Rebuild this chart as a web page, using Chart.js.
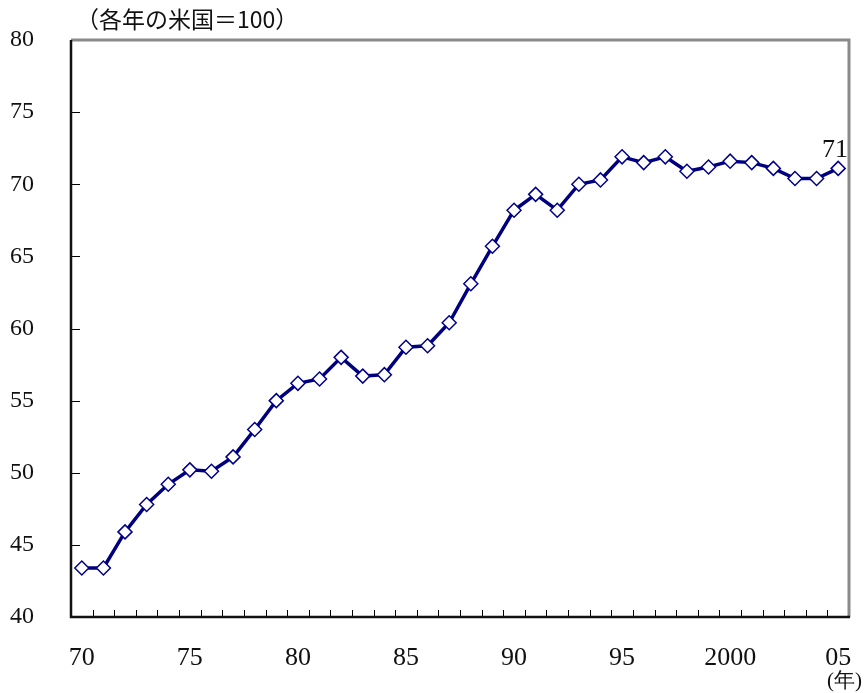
<!DOCTYPE html>
<html>
<head>
<meta charset="utf-8">
<script src="https://cdn.jsdelivr.net/npm/chart.js@4/dist/chart.umd.min.js"></script>
<style>
  html, body { margin: 0; padding: 0; background: #fff; }
  #wrap { width: 865px; height: 693px; }
</style>
</head>
<body>
<div id="wrap"><canvas id="chart"></canvas></div>
<script>
const years = ['70','71','72','73','74','75','76','77','78','79','80','81','82','83','84','85','86','87','88','89',
  '90','91','92','93','94','95','96','97','98','99','2000','01','02','03','04','05'];
const shownYears = ['70','75','80','85','90','95','2000','05'];
const values = [43.4, 43.4, 45.9, 47.8, 49.2, 50.2, 50.1, 51.1, 53.0, 55.0,
  56.2, 56.5, 58.0, 56.7, 56.8, 58.7, 58.8, 60.4, 63.1, 65.7,
  68.2, 69.3, 68.2, 70.0, 70.3, 71.9, 71.5, 71.9, 70.9, 71.2,
  71.6, 71.5, 71.1, 70.4, 70.4, 71.1];
const yTicks = [40, 45, 50, 55, 60, 65, 70, 75, 80];
const unitLabel = '（各年の米国＝100）';
const yearLabel = '(年)';
const lastLabel = '71';

const serif = '"Liberation Serif", "DejaVu Serif", serif';
const cjk = '"Noto Sans CJK JP", sans-serif';

// frame, inner ticks and texts
const framePlugin = {
  id: 'frame',
  afterDraw(chart) {
    const ctx = chart.ctx;
    const a = chart.chartArea;
    const x = chart.scales.x, y = chart.scales.y;
    ctx.save();
    // inner tick marks
    ctx.strokeStyle = '#000';
    ctx.lineWidth = 1;
    yTicks.forEach(v => {
      const py = Math.round(y.getPixelForValue(v)) + 0.5;
      ctx.beginPath(); ctx.moveTo(a.left, py); ctx.lineTo(a.left + 9, py); ctx.stroke();
    });
    for (let i = 1; i < years.length; i++) {
      const px = Math.round((x.getPixelForValue(i - 1) + x.getPixelForValue(i)) / 2) + 0.5;
      ctx.beginPath(); ctx.moveTo(px, a.bottom); ctx.lineTo(px, a.bottom - 7); ctx.stroke();
    }
    // top / right grey border
    ctx.strokeStyle = '#8a8a8a';
    ctx.lineWidth = 3;
    ctx.beginPath();
    ctx.moveTo(a.left, a.top); ctx.lineTo(a.right, a.top); ctx.lineTo(a.right, a.bottom);
    ctx.stroke();
    // left / bottom black axis
    ctx.strokeStyle = '#111';
    ctx.lineWidth = 2.5;
    ctx.beginPath();
    ctx.moveTo(a.left, a.top); ctx.lineTo(a.left, a.bottom); ctx.lineTo(a.right + 1, a.bottom);
    ctx.stroke();
    // texts
    ctx.fillStyle = '#111';
    ctx.font = '23px ' + cjk;
    ctx.textBaseline = 'middle';
    ctx.textAlign = 'left';
    ctx.fillText(unitLabel, 76, 19);
    ctx.font = '21px ' + serif;
    ctx.textAlign = 'right';
    ctx.fillText(yearLabel, 862, 681);
    ctx.font = '26px ' + serif;
    ctx.textBaseline = 'alphabetic';
    ctx.fillText(lastLabel, 848, 157);
    ctx.restore();
  }
};

new Chart(document.getElementById('chart'), {
  type: 'line',
  data: {
    labels: years,
    datasets: [{
      data: values,
      borderColor: '#00007f',
      borderWidth: 3.5,
      backgroundColor: '#fff',
      pointStyle: 'rectRot',
      pointRadius: 7,
      pointBorderWidth: 1.5,
      pointBorderColor: '#00008b',
      pointBackgroundColor: '#fff',
      tension: 0
    }]
  },
  options: {
    responsive: true,
    maintainAspectRatio: false,
    animation: false,
    layout: { padding: { top: 40, right: 16, left: 0, bottom: 0 } },
    plugins: { legend: { display: false }, tooltip: { enabled: false } },
    scales: {
      x: {
        offset: true,
        grid: { display: false, offset: true },
        border: { display: false },
        afterFit: s => { s.height = 76; s.paddingLeft = 0; s.paddingRight = 0; },
        ticks: {
          autoSkip: false,
          maxRotation: 0,
          padding: 18,
          color: '#111',
          font: { family: serif, size: 26 },
          callback: function (v) {
            const l = this.getLabelForValue(v);
            return shownYears.includes(l) ? l : '';
          }
        }
      },
      y: {
        min: 40,
        max: 80,
        grid: { display: false },
        border: { display: false },
        afterFit: s => { s.width = 71; s.paddingTop = 0; s.paddingBottom = 0; },
        afterBuildTicks: s => { s.ticks = yTicks.map(v => ({ value: v })); },
        ticks: {
          padding: 29,
          color: '#111',
          font: { family: serif, size: 24 }
        }
      }
    }
  },
  plugins: [framePlugin]
});
</script>
</body>
</html>
